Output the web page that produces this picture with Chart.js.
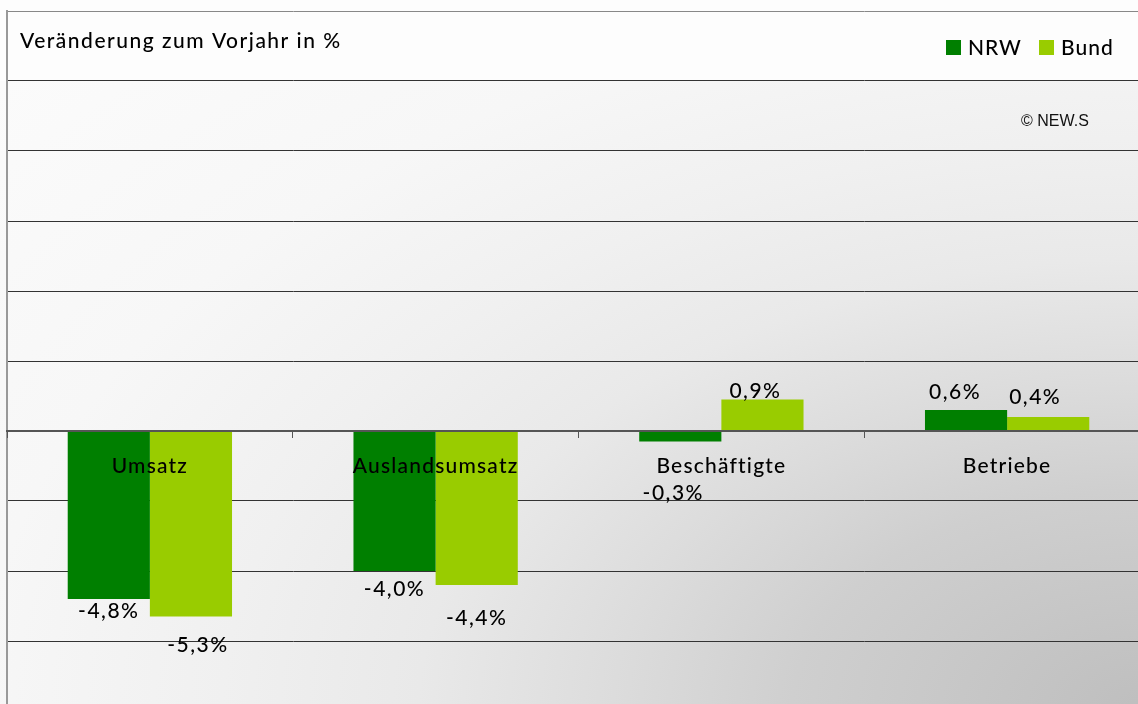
<!DOCTYPE html>
<html>
<head>
<meta charset="utf-8">
<script src="https://cdn.jsdelivr.net/npm/chart.js@4/dist/chart.umd.min.js"></script>
<style>
  html, body { margin: 0; padding: 0; overflow: hidden; background: #fff; }
  #wrap {
    position: absolute; left: 0; top: 0; width: 1150px; height: 711px;
    background: radial-gradient(ellipse farthest-corner at 100% 100%,
      #bebebe 0%, #cfcfcf 22%, #dcdcdc 33%, #e9e9e9 45%, #f0f0f0 57%, #f7f7f7 72%, #fcfcfc 100%);
  }
</style>
</head>
<body>
<div id="wrap"><canvas id="chart" width="1150" height="711"></canvas></div>
<script>
// Daten
const categories = ['Umsatz', 'Auslandsumsatz', 'Beschäftigte', 'Betriebe'];
const nrwValues = [-4.8, -4.0, -0.3, 0.6];
const bundValues = [-5.3, -4.4, 0.9, 0.4];
const yMin = -8, yMax = 12, yStep = 2;

const fontFamily = 'Lato, "DejaVu Sans", sans-serif';
Chart.defaults.font.family = fontFamily;
Chart.defaults.color = '#000';

// Verschiebung der Wertbeschriftungen [dx, dy] (weg vom Balkenende)
const labelNudge = [
  [[0, 12], [0, 18], [-7, 52], [-11, 18]],
  [[7, 29], [0, 33], [-7, 8], [-13, 20]]
];

const fmt = v => v.toFixed(1).replace('.', ',') + '%';

const decor = {
  id: 'decor',
  beforeDraw(chart) {
    const { ctx, scales: { y } } = chart;
    ctx.save();
    ctx.fillStyle = '#fdfdfd';
    ctx.fillRect(0, 0, chart.width, y.getPixelForValue(10));
    ctx.restore();
    // etwas breitere Schrift wie im Original
    ctx.letterSpacing = '1.2px';
  },
  afterDatasetsDraw(chart) {
    const ctx = chart.ctx;
    ctx.save();
    ctx.letterSpacing = '1.5px';
    ctx.font = '500 21px ' + fontFamily;
    ctx.fillStyle = '#000';
    ctx.textAlign = 'center';
    ctx.textBaseline = 'middle';
    chart.data.datasets.forEach((ds, di) => {
      chart.getDatasetMeta(di).data.forEach((bar, i) => {
        const v = ds.data[i];
        const [dx, dy] = labelNudge[di][i];
        ctx.fillText(fmt(v), bar.x + dx, v < 0 ? bar.y + dy : bar.y - dy);
      });
    });
    ctx.restore();
  },
  afterDraw(chart) {
    const ctx = chart.ctx;
    ctx.save();
    ctx.textBaseline = 'middle';
    ctx.fillStyle = '#000';
    // Titel
    ctx.letterSpacing = '1.5px';
    ctx.font = '500 21px ' + fontFamily;
    ctx.textAlign = 'left';
    ctx.fillText('Veränderung zum Vorjahr in %', 20, 41);
    // Legende
    ctx.letterSpacing = '1px';
    let x = 946;
    chart.data.datasets.forEach(ds => {
      ctx.fillStyle = ds.backgroundColor;
      ctx.fillRect(x, 40, 15, 15);
      ctx.fillStyle = '#000';
      ctx.fillText(ds.label, x + 22, 48);
      x += 93;
    });
    // Copyright
    ctx.letterSpacing = '0px';
    ctx.font = '16px "Liberation Sans", Arial, sans-serif';
    ctx.fillStyle = '#111';
    ctx.fillText('© NEW.S', 1021, 122);
    ctx.restore();
    ctx.letterSpacing = '0px';
  }
};

new Chart(document.getElementById('chart'), {
  type: 'bar',
  data: {
    labels: categories,
    datasets: [
      { label: 'NRW', data: nrwValues, backgroundColor: '#007f00' },
      { label: 'Bund', data: bundValues, backgroundColor: '#99cc00' }
    ]
  },
  options: {
    responsive: false,
    animation: false,
    layout: { padding: { left: 7, top: 11, right: 0, bottom: 0 } },
    categoryPercentage: 0.575,
    barPercentage: 1,
    plugins: { legend: { display: false }, tooltip: { enabled: false } },
    scales: {
      x: {
        position: { y: 0 },
        grid: { display: true, drawOnChartArea: false, drawTicks: true, tickLength: 6, color: '#555', offset: true, z: 1 },
        border: { display: true, color: '#555', width: 2, z: 1 },
        ticks: { padding: 17, font: { size: 21, weight: '500' }, color: '#000', z: 1 }
      },
      y: {
        min: yMin,
        max: yMax,
        ticks: { stepSize: yStep, display: false },
        grid: {
          drawTicks: false,
          color: ctx => ctx.tick && ctx.tick.value === yMax ? '#888' : '#333'
        },
        border: { display: true, color: '#999', width: 2 }
      }
    }
  },
  plugins: [decor]
});
</script>
</body>
</html>
